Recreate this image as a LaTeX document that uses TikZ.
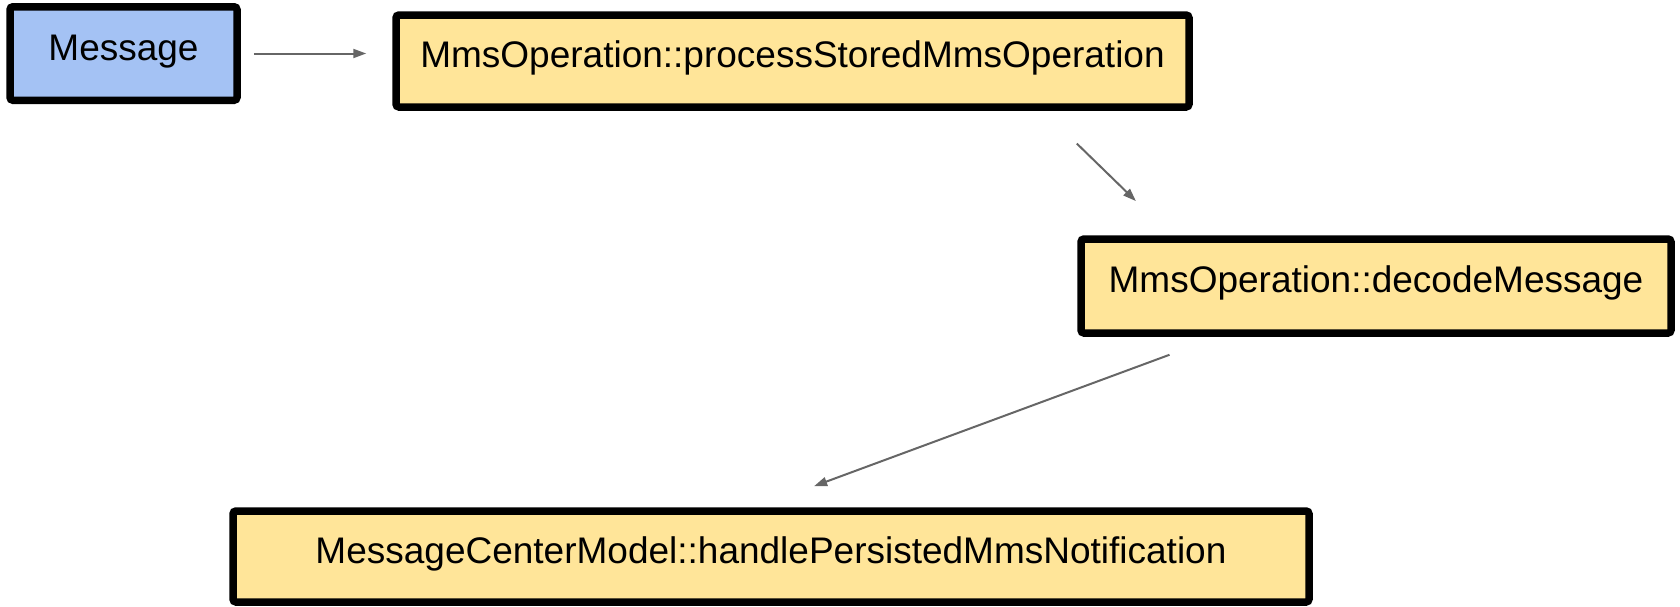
\documentclass[tikz,border=0pt]{standalone}
\usepackage{fontspec}
\setmainfont{Liberation Sans}
\usepackage{tikz}
\usetikzlibrary{arrows.meta,positioning,calc}
\usepackage{xcolor}
\definecolor{msgblue}{HTML}{A4C2F4}
\definecolor{opyellow}{HTML}{FFE599}
\definecolor{linkgray}{HTML}{666666}

\begin{document}
\begin{tikzpicture}[
    x=1pt, y=-1pt,
    callbox/.style={rectangle, draw=black, line width=7.5pt, rounded corners=3pt, inner sep=0pt, align=center, text height=13pt, text depth=0pt, font=\fontsize{37}{44}\selectfont},
    link/.style={-{Triangle[length=13pt,width=9pt]}, line width=2pt, draw=linkgray}
  ]
    \useasboundingbox (0,0) rectangle (1680,606);

    \node[callbox, fill=msgblue, minimum width=227pt, minimum height=93.5pt] (msg) at (123.5,53.5) {Message};
    \node[callbox, fill=opyellow, minimum width=793pt, minimum height=92pt] (proc) at (792.5,61) {MmsOperation::processStoredMmsOperation};
    \node[callbox, fill=opyellow, minimum width=590pt, minimum height=94pt] (decode) at (1376,286) {MmsOperation::decodeMessage};
    \node[callbox, fill=opyellow, minimum width=1076pt, minimum height=91pt] (handle) at (771,556.5) {MessageCenterModel::handlePersistedMmsNotification};

    \draw[link, shorten <=13pt, shorten >=26pt] (msg.east) -- (msg.east -| proc.west);
    \draw[link, shorten <=47pt, shorten >=49pt] ($(proc.south west)!0.813!(proc.south east)$) -- ($(decode.north west)!0.157!(decode.north east)$);
    \draw[link, shorten <=52pt, shorten >=61pt] ($(decode.south west)!0.236!(decode.south east)$) -- ($(handle.north west)!0.487!(handle.north east)$);
  \end{tikzpicture}
\end{document}
